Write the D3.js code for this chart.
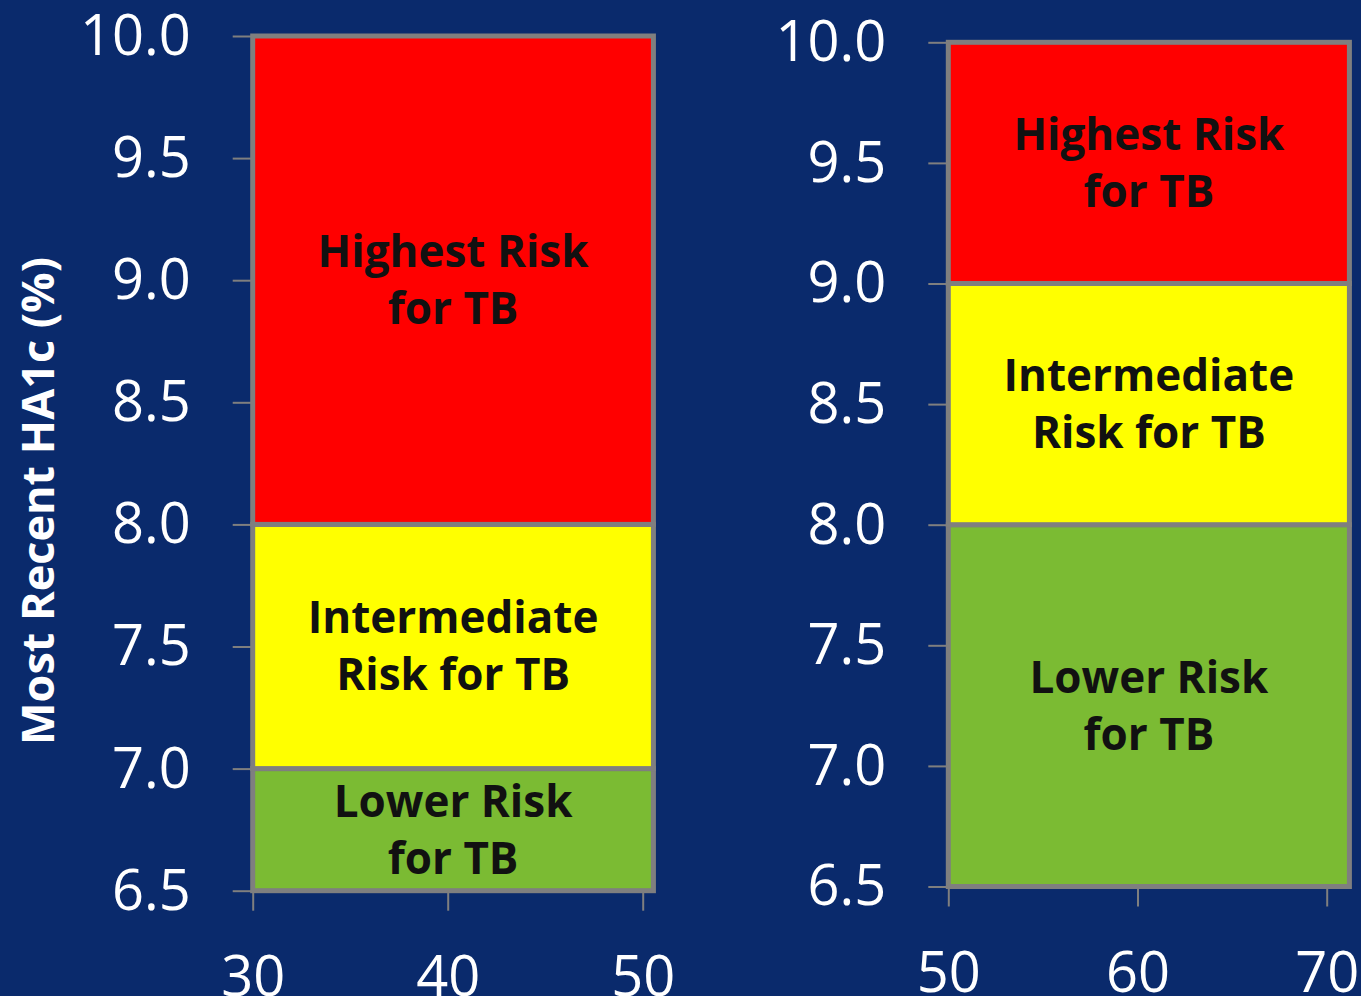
<!DOCTYPE html>
<html>
<head>
<meta charset="utf-8">
<script src="https://cdn.jsdelivr.net/npm/d3@7/dist/d3.min.js"></script>
<style>
  html, body { margin: 0; padding: 0; background: #0a2a6c; }
  svg { display: block; }
</style>
</head>
<body>
<svg id="chart" width="1361" height="996"></svg>
<script>
// HA1c cut-points (%) bounding each risk band, bottom to top
const leftCuts = [6.5, 7.0, 8.0, 10.0];
const rightCuts = [6.5, 8.0, 9.0, 10.0];

// Risk band names, bottom to top
const bandNames = ["lower", "intermediate", "highest"];

// Text written inside each band, one entry per line
const leftBandText = [["Lower Risk", "for TB"], ["Intermediate", "Risk for TB"], ["Highest Risk", "for TB"]];
const rightBandText = [["Lower Risk", "for TB"], ["Intermediate", "Risk for TB"], ["Highest Risk", "for TB"]];

// Horizontal extent of each block (x-axis units)
const leftSpan = [30, 50.55];
const rightSpan = [50, 71.2];

// Axis ticks
const yTickValues = [6.5, 7.0, 7.5, 8.0, 8.5, 9.0, 9.5, 10.0];
const leftXTicks = [30, 40, 50];
const rightXTicks = [50, 60, 70];

const yTitle = "Most Recent HA1c (%)";

const bandColor = d3.scaleOrdinal()
  .domain(bandNames)
  .range(["#7bbb33", "#ffff00", "#ff0000"]);

const svg = d3.select("#chart");
const GRID = "#7f7f7f";

function drawPanel(opts) {
  const x = d3.scaleLinear().domain(opts.xDomain).range(opts.xRange);
  const y = d3.scaleLinear().domain([6.5, 10]).range(opts.yRange);
  const g = svg.append("g");

  // y axis
  const yAxis = g.append("g")
    .attr("transform", `translate(${opts.xRange[0]},0)`)
    .call(d3.axisLeft(y).tickValues(yTickValues).tickFormat(d3.format(".1f"))
      .tickSize(20).tickSizeOuter(0).tickPadding(42));
  // x axis
  const xAxis = g.append("g")
    .attr("transform", `translate(0,${opts.yRange[0]})`)
    .call(d3.axisBottom(x).tickValues(opts.xTicks).tickFormat(d3.format("d"))
      .tickSize(20).tickSizeOuter(0).tickPadding(46));

  [yAxis, xAxis].forEach(a => {
    a.select(".domain").remove();
    a.selectAll(".tick line").attr("stroke", GRID).attr("stroke-width", 2);
    a.selectAll(".tick text")
      .attr("fill", "#ffffff")
      .attr("font-family", "'Open Sans', sans-serif")
      .attr("font-size", 56);
  });
  yAxis.selectAll(".tick text").attr("dy", "0.33em");
  xAxis.selectAll(".tick text").attr("dy", "0.71em");

  // risk bands
  const bands = opts.cuts.slice(0, -1).map((lo, i) => ({
    lo, hi: opts.cuts[i + 1], name: bandNames[i], text: opts.text[i]
  }));

  g.selectAll("rect.band").data(bands).join("rect")
    .attr("class", "band")
    .attr("x", x(opts.span[0]))
    .attr("width", x(opts.span[1]) - x(opts.span[0]))
    .attr("y", d => y(d.hi))
    .attr("height", d => y(d.lo) - y(d.hi))
    .attr("fill", d => bandColor(d.name))
    .attr("stroke", GRID)
    .attr("stroke-width", 5);

  const cx = (x(opts.span[0]) + x(opts.span[1])) / 2;
  const lineGap = 57;
  const labels = g.selectAll("text.band-label").data(bands).join("text")
    .attr("class", "band-label")
    .attr("text-anchor", "middle")
    .attr("font-family", "'Open Sans', sans-serif")
    .attr("font-weight", 700)
    .attr("font-size", 44)
    .attr("fill", "#111111");
  labels.selectAll("tspan").data(d => d.text.map((t, i) => ({
      t, i, n: d.text.length, cy: (y(d.lo) + y(d.hi)) / 2
    })))
    .join("tspan")
    .attr("x", cx)
    .attr("y", d => d.cy + (d.i - (d.n - 1) / 2) * lineGap)
    .attr("dy", "0.35em")
    .text(d => d.t);
}

drawPanel({
  cuts: leftCuts, text: leftBandText, span: leftSpan,
  xDomain: [30, 50], xRange: [252.7, 642.7], yRange: [890.7, 36],
  xTicks: leftXTicks
});
drawPanel({
  cuts: rightCuts, text: rightBandText, span: rightSpan,
  xDomain: [50, 70], xRange: [948.3, 1326.7], yRange: [886.5, 42.3],
  xTicks: rightXTicks
});

// shared y-axis title
svg.append("text")
  .attr("transform", "translate(54,501) rotate(-90)")
  .attr("text-anchor", "middle")
  .attr("font-family", "'Open Sans', sans-serif")
  .attr("font-weight", 700)
  .attr("font-size", 45)
  .attr("fill", "#ffffff")
  .text(yTitle);
</script>
</body>
</html>
